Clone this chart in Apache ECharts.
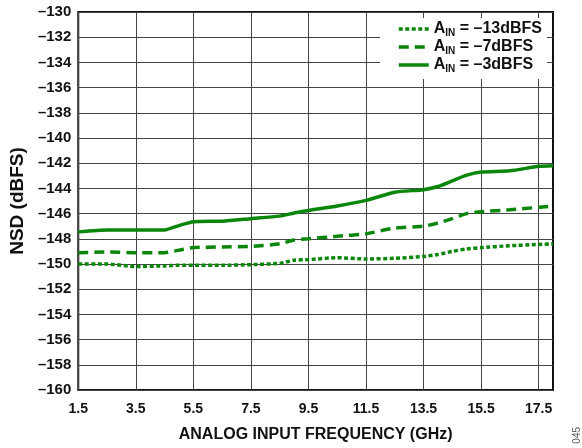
<!DOCTYPE html>
<html>
<head>
<meta charset="utf-8">
<script src="https://cdn.jsdelivr.net/npm/echarts@6/dist/echarts.min.js"></script>
<style>
  html, body { margin: 0; padding: 0; background: #fff; }
  #nsd-chart { width: 582px; height: 448px; }
</style>
</head>
<body>
<div id="nsd-chart"></div>
<script>
var dom = document.getElementById('nsd-chart');
var myChart = echarts.init(dom, null, { renderer: 'canvas' });

// analog input frequency (GHz)
var freqs = [1.5, 2.5, 3.5, 4.5, 5.0, 5.5, 6.5, 7.5, 8.5, 9.0, 9.5, 10.5, 11.5, 12.5, 13.5, 14.0, 14.5, 15.0, 15.5, 16.5, 17.5, 18.0];

// NSD (dBFS) per input level
var nsdMinus13 = [-150.0, -150.0, -150.2, -150.15, -150.1, -150.1, -150.1, -150.05, -149.95, -149.7, -149.65, -149.5, -149.6, -149.55, -149.4, -149.25, -149.0, -148.8, -148.7, -148.55, -148.45, -148.4];
var nsdMinus7 = [-149.1, -149.05, -149.1, -149.1, -148.9, -148.7, -148.65, -148.6, -148.4, -148.1, -148.0, -147.8, -147.6, -147.15, -147.0, -146.75, -146.4, -146.0, -145.85, -145.7, -145.5, -145.4];
var nsdMinus3 = [-147.45, -147.3, -147.3, -147.3, -146.95, -146.65, -146.6, -146.4, -146.2, -145.95, -145.75, -145.4, -144.95, -144.3, -144.1, -143.85, -143.4, -142.95, -142.7, -142.6, -142.25, -142.2];

var xTicks = [1.5, 3.5, 5.5, 7.5, 9.5, 11.5, 13.5, 15.5, 17.5];

var seriesNames = ['-13', '-7', '-3'];
var lineTypes = [[4, 2.5], [10, 6], 'solid'];
var allData = [nsdMinus13, nsdMinus7, nsdMinus3];

var green = '#0a870a';
var font = 'Arial, "Liberation Sans", sans-serif';

function pairs(ys) {
  return freqs.map(function (f, i) { return [f, ys[i]]; });
}

function dashLabel(v) {
  return v < 0 ? '\u2013' + Math.abs(v) : String(v);
}

var option = {
  animation: false,
  backgroundColor: '#fff',
  grid: {
    left: 75,
    right: 29,
    top: 12,
    bottom: 56,
    show: true,
    borderColor: '#111',
    borderWidth: 2
  },
  legend: {
    left: 380,
    top: 18,
    orient: 'vertical',
    itemWidth: 30,
    itemHeight: 12,
    itemGap: 1,
    backgroundColor: '#fff',
    padding: [3, 5, 5, 17],
    itemStyle: { opacity: 0 },
    lineStyle: { width: 3.5 },
    data: seriesNames,
    formatter: function (name) {
      return '{a|A}{s|IN}{a| = \u2013' + name.slice(1) + 'dBFS}';
    },
    textStyle: {
      rich: {
        a: { fontFamily: font, fontWeight: 'bold', fontSize: 16, color: '#111', lineHeight: 18 },
        s: { fontFamily: font, fontWeight: 'bold', fontSize: 10, color: '#111', lineHeight: 18, verticalAlign: 'bottom', padding: [7, 0, 0, 0] }
      }
    }
  },
  xAxis: {
    type: 'value',
    min: 1.5,
    max: 18,
    name: 'ANALOG INPUT FREQUENCY (GHz)',
    nameLocation: 'middle',
    nameGap: 37,
    nameTextStyle: { fontFamily: font, fontWeight: 'bold', fontSize: 16, color: '#111' },
    axisLine: { show: false },
    axisTick: { show: false, customValues: xTicks },
    axisLabel: {
      customValues: xTicks,
      fontFamily: font,
      fontWeight: 'bold',
      fontSize: 14,
      color: '#111',
      margin: 12,
      formatter: function (v) { return v.toFixed(1); }
    },
    splitLine: { show: true, lineStyle: { color: '#444', width: 1 } }
  },
  yAxis: {
    type: 'value',
    min: -160,
    max: -130,
    interval: 2,
    name: 'NSD (dBFS)',
    nameLocation: 'middle',
    nameGap: 47,
    nameTextStyle: { fontFamily: font, fontWeight: 'bold', fontSize: 19, color: '#111' },
    axisLine: { show: false },
    axisTick: { show: false },
    axisLabel: {
      fontFamily: font,
      fontWeight: 'bold',
      fontSize: 15,
      color: '#111',
      margin: 7,
      formatter: dashLabel
    },
    splitLine: { show: true, lineStyle: { color: '#444', width: 1 } }
  },
  series: seriesNames.map(function (name, i) {
    return {
      name: name,
      type: 'line',
      showSymbol: false,
      symbol: 'none',
      smooth: 0.2,
      color: green,
      itemStyle: { opacity: 0 },
      lineStyle: { color: green, width: 3.5, type: lineTypes[i] },
      data: pairs(allData[i])
    };
  }),
  graphic: [
    {
      type: 'text',
      left: 572,
      top: 427,
      rotation: Math.PI / 2,
      style: { text: '045', fontFamily: font, fontSize: 10, fill: '#555' }
    }
  ]
};

myChart.setOption(option);
window.addEventListener('resize', myChart.resize);
</script>
</body>
</html>
